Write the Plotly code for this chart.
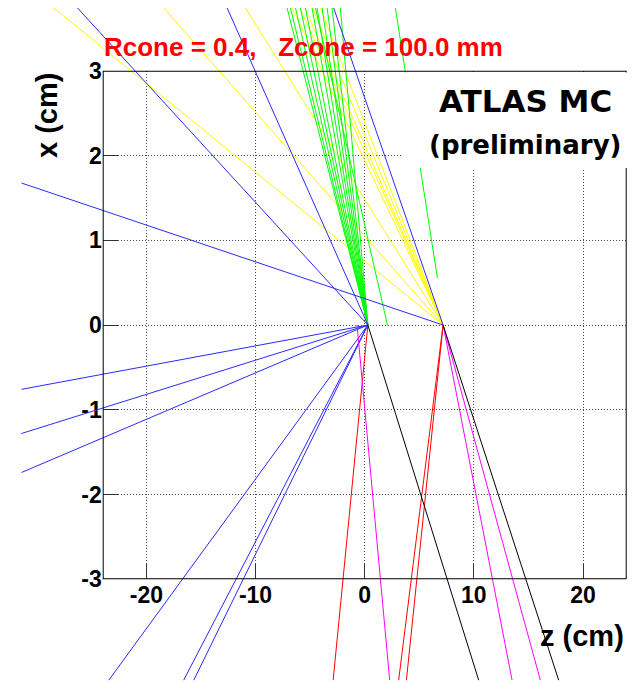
import plotly.graph_objects as go

# ---------------------------------------------------------------- data (cm)
# primary vertices (z, x)
V1 = (0.29, 0.0)
V2 = (7.18, 0.0)
V1B = (-0.70, 0.0)

# track segments: start z, start x, end z, end x
blue_z0 = [V1[0]] * 8 + [V2[0]] * 2
blue_x0 = [V1[1]] * 8 + [V2[1]] * 2
blue_z1 = [-26.31, -12.60, -31.44, -31.44, -31.44, -23.44, -16.58, -15.66, -31.44, -2.84]
blue_x1 = [3.74, 3.74, -0.759, -1.28, -1.74, -4.19, -4.19, -4.19, 1.675, 3.74]

yellow_z0 = [V2[0]] * 8
yellow_x0 = [V2[1]] * 8
yellow_z1 = [-28.48, -18.41, -10.92, -6.66, -5.94, -5.48, -4.77, -4.06]
yellow_x1 = [3.74] * 8

green_z0 = [V1[0]] * 11 + [2.08, 6.66]
green_x0 = [V1[1]] * 11 + [0.0, 0.554]
green_z1 = [-7.11, -6.80, -6.34, -5.89, -5.43, -4.82, -4.36, -3.90, -3.44, -2.99, -2.23, -4.51, 2.81]
green_x1 = [3.74] * 13

red_z0 = [V1[0], V2[0], V2[0]]
red_x0 = [V1[1], V2[1], V2[1]]
red_z1 = [-2.89, 3.11, 3.82]
red_x1 = [-4.19, -4.19, -4.19]

magenta_z0 = [V1B[0], V2[0], V2[0]]
magenta_x0 = [V1B[1], V2[1], V2[1]]
magenta_z1 = [2.29, 13.50, 16.09]
magenta_x1 = [-4.19, -4.19, -4.19]

black_z0 = [V1[0], V2[0]]
black_x0 = [V1[1], V2[1]]
black_z1 = [10.44, 17.77]
black_x1 = [-4.19, -4.19]

z_ticks = [-20, -10, 0, 10, 20]
z_tick_text = ["-20", "-10", "0", "10", "20"]
x_ticks = [-3, -2, -1, 0, 1, 2, 3]
x_tick_text = ["-3", "-2", "-1", "0", "1", "2", "3"]

Z_RANGE = [-24, 24]
X_RANGE = [-3, 3]

# ---------------------------------------------------------------- layout geometry (px)
W, H = 634, 682
FL, FR, FT, FB = 102.7, 626.7, 70.7, 579.3   # frame edges

sx = (FR - FL) / (Z_RANGE[1] - Z_RANGE[0])
sy = (FB - FT) / (X_RANGE[1] - X_RANGE[0])
full_z = [Z_RANGE[0] - FL / sx, Z_RANGE[1] + (W - FR) / sx]
full_x = [X_RANGE[0] - (H - FB) / sy, X_RANGE[1] + FT / sy]


def px(x):
    return x / W


def py(y):
    return 1 - y / H


fig = go.Figure()


def add_tracks(z0, x0, z1, x1, color):
    zs, xs = [], []
    for a, b, c, d in zip(z0, x0, z1, x1):
        zs += [a, c, None]
        xs += [b, d, None]
    fig.add_trace(go.Scatter(x=zs, y=xs, mode="lines", xaxis="x2", yaxis="y2",
                             line=dict(color=color, width=1), hoverinfo="skip",
                             showlegend=False))


add_tracks(yellow_z0, yellow_x0, yellow_z1, yellow_x1, "#ffff00")
add_tracks(green_z0, green_x0, green_z1, green_x1, "#00ff00")
add_tracks(blue_z0, blue_x0, blue_z1, blue_x1, "#2a2aff")
add_tracks(red_z0, red_x0, red_z1, red_x1, "#ff0000")
add_tracks(magenta_z0, magenta_x0, magenta_z1, magenta_x1, "#ff00ff")
add_tracks(black_z0, black_x0, black_z1, black_x1, "#000000")

tick_font = dict(family="Liberation Sans, Arial", size=23, color="black", weight="bold")
axis_common = dict(showgrid=True, gridcolor="#4a4a4a", griddash="1px,2px", gridwidth=1,
                   zeroline=False, showline=False, ticks="inside", ticklen=15,
                   tickwidth=1, tickcolor="#333333", tickfont=tick_font,
                   automargin=False, fixedrange=True)

fig.update_layout(
    template="none",
    width=W, height=H,
    margin=dict(l=0, r=0, t=0, b=0, pad=0),
    paper_bgcolor="white",
    plot_bgcolor="rgba(0,0,0,0)",
    showlegend=False,
    xaxis=dict(domain=[px(FL), px(FR)], range=Z_RANGE, tickmode="array",
               tickvals=z_ticks, ticktext=z_tick_text, anchor="y", **axis_common),
    yaxis=dict(domain=[py(FB), py(FT)], range=X_RANGE, tickmode="array",
               tickvals=x_ticks, ticktext=x_tick_text, anchor="x", **axis_common),
    xaxis2=dict(domain=[0, 1], range=full_z, visible=False, anchor="y2",
                automargin=False, fixedrange=True),
    yaxis2=dict(domain=[0, 1], range=full_x, visible=False, anchor="x2",
                automargin=False, fixedrange=True),
    shapes=[
        # frame
        dict(type="rect", xref="x", yref="y", x0=Z_RANGE[0], x1=Z_RANGE[1],
             y0=X_RANGE[0], y1=X_RANGE[1], line=dict(color="black", width=2),
             layer="above"),
        # label box
        dict(type="rect", xref="paper", yref="paper", x0=px(403), x1=px(629),
             y0=py(168), y1=py(72.5), fillcolor="white", line=dict(width=0),
             layer="above"),
    ],
    annotations=[
        dict(text="Rcone = 0.4,   Zcone = 100.0 mm", xref="paper", yref="paper",
             x=px(102), y=py(47), xanchor="left", yanchor="middle", showarrow=False,
             font=dict(family="Liberation Sans, Arial", size=26, color="#ff0000",
                       weight="bold")),
        dict(text="ATLAS MC", xref="paper", yref="paper", x=px(525), y=py(101),
             xanchor="center", yanchor="middle", showarrow=False,
             font=dict(family="DejaVu Sans", size=31, color="black", weight="bold")),
        dict(text="(preliminary)", xref="paper", yref="paper", x=px(525.5), y=py(145),
             xanchor="center", yanchor="middle", showarrow=False,
             font=dict(family="DejaVu Sans", size=26, color="black", weight="bold")),
        dict(text="x (cm)", xref="paper", yref="paper", x=px(47), y=py(116),
             xanchor="center", yanchor="middle", textangle=-90, showarrow=False,
             font=dict(family="Liberation Sans, Arial", size=29, color="black",
                       weight="bold")),
        dict(text="z (cm)", xref="paper", yref="paper", x=px(626), y=py(636),
             xanchor="right", yanchor="middle", showarrow=False,
             font=dict(family="Liberation Sans, Arial", size=29, color="black",
                       weight="bold")),
    ],
)

fig.write_html("out.html")
